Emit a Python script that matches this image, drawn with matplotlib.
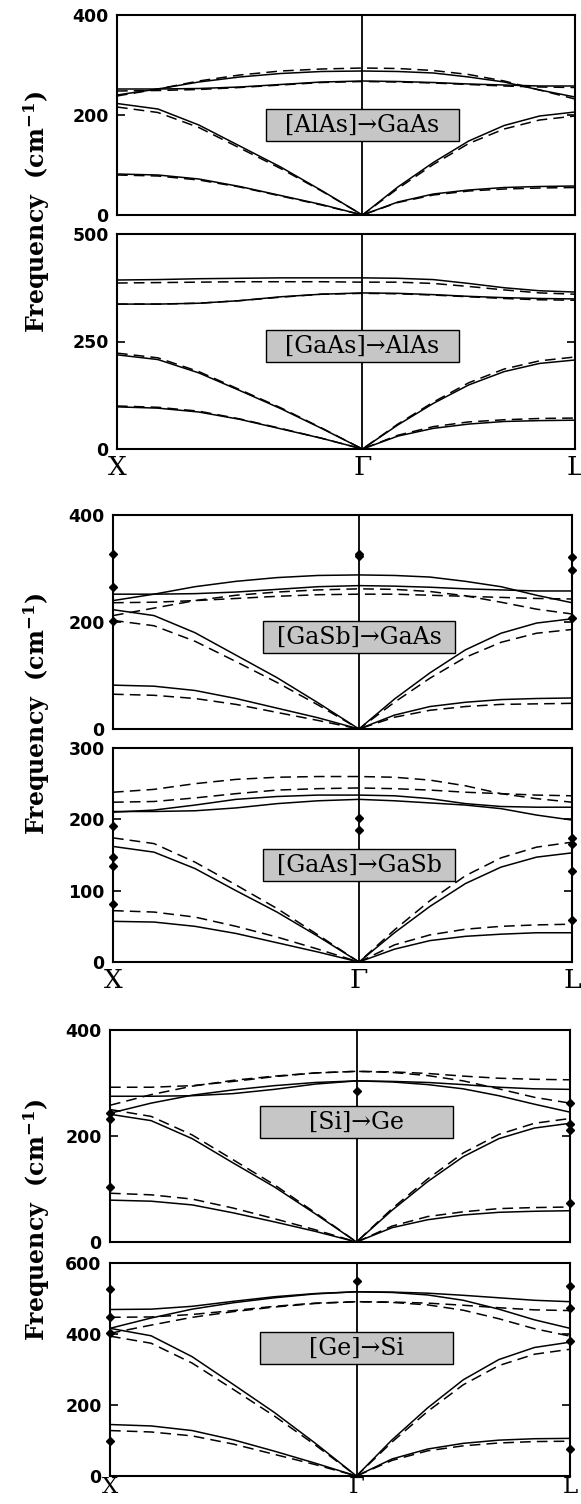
import matplotlib
matplotlib.use("Agg")
import matplotlib.pyplot as plt
from matplotlib.patches import Rectangle

plt.rcParams['mathtext.fontset'] = 'dejavuserif'

# ---------------- data (cm^-1), sampled X -> Gamma -> L (7 + 6 points) ----------------
# branch order in each set: TA, LA, TO, LO
gaas_solid = [
    [82, 80, 72, 57, 39, 21, 0, 26, 42, 50, 55, 57, 58],
    [223, 212, 180, 138, 96, 49, 0, 56, 105, 148, 179, 198, 206],
    [252, 252, 253, 256, 261, 266, 268, 267, 265, 262, 260, 258, 258],
    [240, 252, 266, 276, 283, 287, 288, 287, 284, 276, 266, 250, 236],
]
alas_to_gaas_dashed = [
    [80, 78, 70, 56, 38, 20, 0, 25, 40, 48, 52, 54, 55],
    [216, 205, 175, 134, 93, 48, 0, 53, 101, 143, 172, 190, 198],
    [248, 249, 251, 255, 260, 265, 267, 266, 264, 261, 258, 256, 255],
    [238, 252, 268, 280, 288, 292, 294, 293, 289, 281, 268, 250, 232],
]
alas_solid = [
    [98, 95, 86, 69, 47, 25, 0, 30, 48, 58, 64, 66, 67],
    [219, 208, 177, 136, 94, 48, 0, 56, 106, 149, 180, 199, 207],
    [337, 337, 339, 345, 354, 360, 363, 362, 359, 355, 352, 350, 349],
    [393, 394, 396, 397, 398, 398, 398, 397, 394, 385, 375, 368, 365],
]
gaas_to_alas_dashed = [
    [100, 97, 88, 70, 48, 25, 0, 32, 52, 63, 68, 71, 72],
    [223, 212, 180, 138, 96, 49, 0, 58, 109, 154, 186, 205, 214],
    [337, 337, 339, 345, 353, 360, 362, 361, 358, 354, 350, 347, 346],
    [386, 387, 388, 389, 389, 389, 388, 388, 385, 378, 370, 363, 360],
]
gasb_to_gaas_dashed = [
    [65, 63, 57, 46, 31, 16, 0, 22, 35, 42, 46, 47, 48],
    [203, 193, 164, 126, 87, 45, 0, 50, 95, 134, 162, 179, 186],
    [236, 237, 240, 244, 248, 251, 252, 252, 250, 248, 246, 244, 243],
    [212, 226, 240, 250, 256, 260, 262, 261, 257, 249, 237, 224, 215],
]
gasb_solid = [
    [57, 56, 50, 40, 27, 14, 0, 18, 30, 36, 39, 41, 41],
    [162, 154, 131, 100, 70, 36, 0, 41, 78, 110, 133, 147, 153],
    [211, 211, 212, 216, 222, 226, 228, 226, 223, 220, 215, 206, 199],
    [210, 213, 220, 228, 232, 234, 234, 233, 229, 222, 218, 217, 217],
]
gaas_to_gasb_dashed = [
    [72, 70, 63, 50, 35, 18, 0, 24, 38, 46, 50, 52, 53],
    [174, 166, 140, 108, 75, 38, 0, 45, 86, 121, 146, 161, 168],
    [224, 225, 230, 236, 241, 243, 244, 243, 241, 238, 236, 234, 233],
    [238, 242, 250, 256, 259, 260, 260, 259, 255, 247, 236, 229, 224],
]
ge_solid = [
    [79, 77, 70, 55, 38, 20, 0, 27, 42, 51, 56, 58, 59],
    [241, 229, 195, 149, 104, 53, 0, 60, 114, 161, 195, 215, 224],
    [275, 275, 276, 280, 288, 298, 304, 303, 301, 297, 292, 289, 288],
    [243, 262, 277, 287, 295, 301, 304, 302, 297, 289, 276, 260, 245],
]
si_to_ge_dashed = [
    [92, 89, 81, 64, 44, 23, 0, 30, 48, 57, 63, 65, 66],
    [250, 237, 202, 155, 108, 55, 0, 63, 119, 168, 203, 224, 233],
    [292, 292, 295, 303, 312, 319, 322, 321, 318, 313, 309, 307, 306],
    [258, 278, 294, 305, 313, 319, 322, 320, 314, 304, 289, 273, 262],
]
si_solid = [
    [145, 141, 128, 102, 70, 36, 0, 48, 76, 92, 101, 105, 106],
    [416, 395, 336, 258, 179, 92, 0, 102, 192, 271, 328, 362, 377],
    [469, 470, 478, 492, 505, 514, 519, 518, 515, 509, 502, 495, 491],
    [416, 445, 470, 488, 502, 513, 519, 517, 510, 495, 470, 440, 416],
]
ge_to_si_dashed = [
    [128, 124, 113, 90, 61, 32, 0, 44, 71, 85, 93, 97, 98],
    [394, 374, 318, 244, 169, 87, 0, 96, 182, 257, 311, 343, 357],
    [447, 448, 455, 466, 478, 487, 491, 490, 487, 481, 474, 468, 466],
    [402, 425, 447, 463, 476, 486, 491, 489, 482, 467, 443, 415, 394],
]

# experimental points (X, Gamma, L)
gasb_gaas_pts = ([327, 265, 202], [327, 323], [322, 297, 207])
gaas_gasb_pts = ([191, 147, 135, 81], [202, 185], [174, 165, 128, 59])
si_ge_pts = ([243, 232, 104], [285], [262, 223, 211, 74])
ge_si_pts = ([527, 447, 402, 100], [550], [536, 472, 380, 75])

panel_labels = ["[AlAs]\u2192GaAs", "[GaAs]\u2192AlAs", "[GaSb]\u2192GaAs",
                "[GaAs]\u2192GaSb", "[Si]\u2192Ge", "[Ge]\u2192Si"]
y_max = [400, 500, 400, 300, 400, 600]
y_ticks = [[0, 200, 400], [0, 250, 500], [0, 200, 400], [0, 100, 200, 300],
           [0, 200, 400], [0, 200, 400, 600]]
point_labels = ["X", "\u0393", "L"]

# ---------------- path coordinates ----------------
s_L = 3 ** 0.5 / 2
xq = [i / 6 for i in range(7)] + [1 + s_L * i / 6 for i in range(1, 7)]
x_sym = [0, 1, 1 + s_L]

W, H = 581, 1504
fig = plt.figure(figsize=(W / 100, H / 100), dpi=100)

# layout (pixels): x0, x1, ytop, ybottom
geoms = [(117, 575, 15, 215), (117, 575, 234, 449),
         (113, 572, 515, 729), (113, 572, 748, 962),
         (110, 570, 1030, 1242), (110, 570, 1263, 1476)]
box_yc = [0.45, 0.479, 0.43, 0.453, 0.566, 0.60]
xlab_size = [19, 19, 19, 19, 19, 16.5]
xlab_pad = [4, 4, 4, 4, 4, 0]

solids = [gaas_solid, alas_solid, gaas_solid, gasb_solid, ge_solid, si_solid]
dashes = [alas_to_gaas_dashed, gaas_to_alas_dashed, gasb_to_gaas_dashed,
          gaas_to_gasb_dashed, si_to_ge_dashed, ge_to_si_dashed]
points = [None, None, gasb_gaas_pts, gaas_gasb_pts, si_ge_pts, ge_si_pts]

for i in range(6):
    x0, x1, yt, yb = geoms[i]
    ax = fig.add_axes([x0 / W, 1 - yb / H, (x1 - x0) / W, (yb - yt) / H])
    for br in solids[i]:
        ax.plot(xq, br, color='k', lw=1.1, solid_joinstyle='round')
    for br in dashes[i]:
        ax.plot(xq, br, color='k', lw=1.1, ls=(0, (7, 4)))
    ax.axvline(1, color='k', lw=1.3)
    if points[i] is not None:
        for xs, vals in zip(x_sym, points[i]):
            ax.plot([xs] * len(vals), vals, 'D', color='k', ms=4.2, clip_on=False, zorder=5)
    ax.set_xlim(0, 1 + s_L)
    ax.set_ylim(0, y_max[i])
    ax.set_yticks(y_ticks[i])
    ax.set_yticklabels([str(t) for t in y_ticks[i]], fontweight='bold',
                       family='DejaVu Sans', fontsize=12.5)
    ax.tick_params(axis='y', direction='in', length=6, width=1.2, right=True,
                   labelright=False, pad=6)
    if i % 2 == 1:
        ax.set_xticks(x_sym)
        ax.set_xticklabels(point_labels, family='DejaVu Serif', fontsize=xlab_size[i])
        ax.tick_params(axis='x', length=0, pad=xlab_pad[i])
    else:
        ax.set_xticks([])
    for sp in ax.spines.values():
        sp.set_linewidth(1.5)
    hfrac = 32 / (yb - yt)
    ax.add_patch(Rectangle((0.326, box_yc[i] - hfrac / 2), 0.42, hfrac,
                           transform=ax.transAxes, facecolor='#c6c6c6',
                           edgecolor='k', lw=1.0, zorder=6))
    ax.text(0.536, box_yc[i], panel_labels[i], transform=ax.transAxes,
            ha='center', va='center', fontsize=17, family='DejaVu Serif',
            zorder=7)

for yc in [212, 714, 1220]:
    fig.text(37 / W, 1 - yc / H, r'Frequency  (cm$^{\mathbf{-1}}$)', rotation=90,
             ha='center', va='center', fontsize=17, fontweight='bold',
             family='DejaVu Serif')

fig.savefig('out.png', dpi=100)
